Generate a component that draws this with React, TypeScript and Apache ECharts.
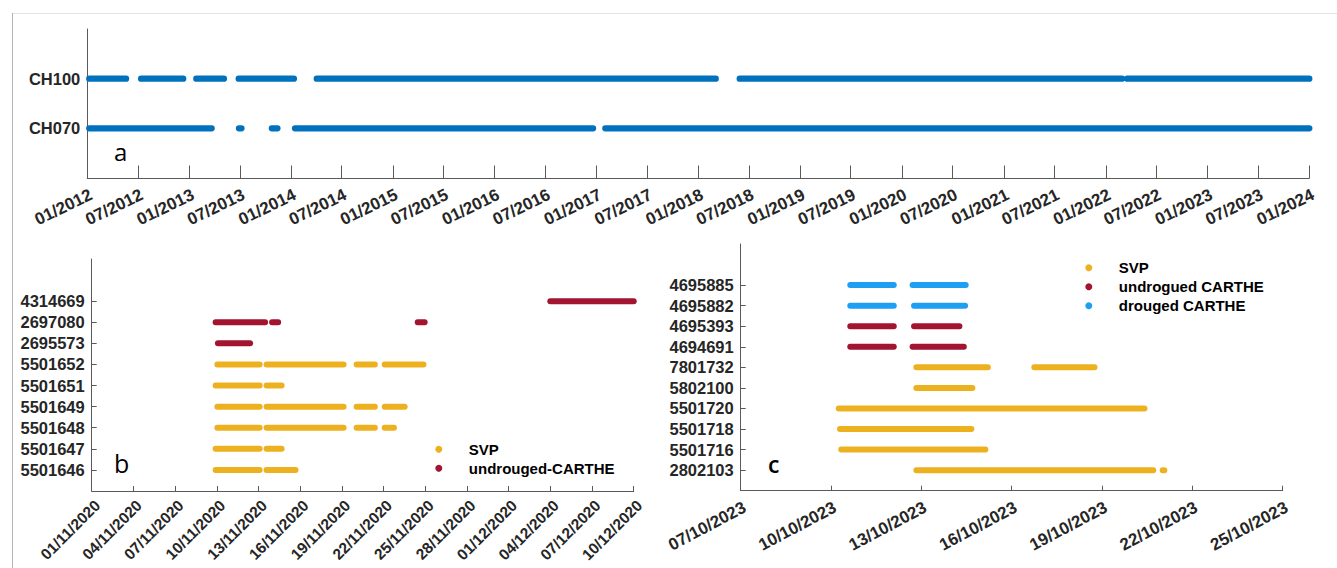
import React, { useEffect, useRef } from "react";
import * as echarts from "echarts";

// ---- Panel a: mooring record coverage ----
const A_ROWS = ["CH070", "CH100"]; // bottom to top
const CH070_SEGMENTS: [string, string][] = [
  ["2012-01-08", "2013-03-22"],
  ["2013-06-28", "2013-07-07"],
  ["2013-10-24", "2013-11-13"],
  ["2014-01-15", "2016-12-19"],
  ["2017-02-01", "2024-01-01"],
];
const CH100_SEGMENTS: [string, string][] = [
  ["2012-01-08", "2012-05-19"],
  ["2012-07-12", "2012-12-10"],
  ["2013-01-26", "2013-05-05"],
  ["2013-06-27", "2014-01-11"],
  ["2014-04-03", "2018-03-04"],
  ["2018-05-29", "2022-02-28"],
  ["2022-03-19", "2024-01-01"],
];
const A_TICKS = [
  "2012-01-01", "2012-07-01", "2013-01-01", "2013-07-01", "2014-01-01",
  "2014-07-01", "2015-01-01", "2015-07-01", "2016-01-01", "2016-07-01",
  "2017-01-01", "2017-07-01", "2018-01-01", "2018-07-01", "2019-01-01",
  "2019-07-01", "2020-01-01", "2020-07-01", "2021-01-01", "2021-07-01",
  "2022-01-01", "2022-07-01", "2023-01-01", "2023-07-01", "2024-01-01",
];

// ---- Panel b: drifters, Nov-Dec 2020 ----
const B_IDS = [
  "5501646", "5501647", "5501648", "5501649", "5501651",
  "5501652", "2695573", "2697080", "4314669",
];
const B_TYPES = [
  "SVP", "SVP", "SVP", "SVP", "SVP",
  "SVP", "undrouged-CARTHE", "undrouged-CARTHE", "undrouged-CARTHE",
];
const B_SEGMENTS: [string, string][][] = [
  [["2020-11-09 22:00", "2020-11-13 02:00"], ["2020-11-13 14:00", "2020-11-15 16:00"]],
  [["2020-11-09 22:00", "2020-11-13 02:00"], ["2020-11-13 14:00", "2020-11-14 16:00"]],
  [["2020-11-10 01:00", "2020-11-13 02:00"], ["2020-11-13 14:00", "2020-11-19 03:00"], ["2020-11-20 01:30", "2020-11-21 09:00"], ["2020-11-22 02:00", "2020-11-22 18:00"]],
  [["2020-11-10 01:00", "2020-11-13 02:00"], ["2020-11-13 14:00", "2020-11-19 03:00"], ["2020-11-20 01:30", "2020-11-21 09:00"], ["2020-11-22 02:00", "2020-11-23 12:30"]],
  [["2020-11-09 22:00", "2020-11-13 02:00"], ["2020-11-13 14:00", "2020-11-14 16:00"]],
  [["2020-11-10 01:00", "2020-11-13 02:00"], ["2020-11-13 14:00", "2020-11-19 03:00"], ["2020-11-20 01:30", "2020-11-21 09:00"], ["2020-11-22 02:00", "2020-11-24 21:00"]],
  [["2020-11-10 02:00", "2020-11-12 09:30"]],
  [["2020-11-09 22:00", "2020-11-13 11:30"], ["2020-11-13 23:30", "2020-11-14 10:00"], ["2020-11-24 11:00", "2020-11-24 23:00"]],
  [["2020-12-04 00:00", "2020-12-10 00:00"]],
];
const B_LEGEND = ["SVP", "undrouged-CARTHE"];
const B_TICKS = [
  "2020-11-01", "2020-11-04", "2020-11-07", "2020-11-10", "2020-11-13",
  "2020-11-16", "2020-11-19", "2020-11-22", "2020-11-25", "2020-11-28",
  "2020-12-01", "2020-12-04", "2020-12-07", "2020-12-10",
];

// ---- Panel c: drifters, Oct 2023 ----
const C_IDS = [
  "2802103", "5501716", "5501718", "5501720", "5802100",
  "7801732", "4694691", "4695393", "4695882", "4695885",
];
const C_TYPES = [
  "SVP", "SVP", "SVP", "SVP", "SVP",
  "SVP", "undrogued CARTHE", "undrogued CARTHE", "drouged CARTHE", "drouged CARTHE",
];
const C_SEGMENTS: [string, string][][] = [
  [["2023-10-12 20:00", "2023-10-20 16:50"], ["2023-10-21 00:20", "2023-10-21 01:40"]],
  [["2023-10-10 08:10", "2023-10-15 03:00"]],
  [["2023-10-10 07:10", "2023-10-14 15:50"]],
  [["2023-10-10 06:10", "2023-10-20 09:50"]],
  [["2023-10-12 20:00", "2023-10-14 16:40"]],
  [["2023-10-12 20:00", "2023-10-15 05:00"], ["2023-10-16 18:00", "2023-10-18 18:00"]],
  [["2023-10-10 15:20", "2023-10-12 02:00"], ["2023-10-12 17:00", "2023-10-14 09:50"]],
  [["2023-10-10 15:20", "2023-10-12 02:00"], ["2023-10-12 18:10", "2023-10-14 06:20"]],
  [["2023-10-10 15:20", "2023-10-12 02:00"], ["2023-10-12 18:10", "2023-10-14 10:50"]],
  [["2023-10-10 15:20", "2023-10-12 02:00"], ["2023-10-12 17:00", "2023-10-14 11:20"]],
];
const C_LEGEND = ["SVP", "undrogued CARTHE", "drouged CARTHE"];
const C_TICKS = [
  "2023-10-07", "2023-10-10", "2023-10-13", "2023-10-16",
  "2023-10-19", "2023-10-22", "2023-10-25",
];

const TYPE_COLORS: Record<string, string> = {
  SVP: "#EDB120",
  "undrouged-CARTHE": "#A2142F",
  "undrogued CARTHE": "#A2142F",
  "drouged CARTHE": "#1E9FF2",
};
const MOORING_COLOR = "#0072BD";

const ts = (s: string): number => {
  const [d, hm = "00:00"] = s.split(" ");
  const [Y, M, D] = d.split("-").map(Number);
  const [h, m] = hm.split(":").map(Number);
  return Date.UTC(Y, M - 1, D, h, m);
};
const pad = (n: number) => String(n).padStart(2, "0");
const fmtMonth = (v: number) => {
  const d = new Date(v);
  return `${pad(d.getUTCMonth() + 1)}/${d.getUTCFullYear()}`;
};
const fmtDay = (v: number) => {
  const d = new Date(v);
  return `${pad(d.getUTCDate())}/${pad(d.getUTCMonth() + 1)}/${d.getUTCFullYear()}`;
};

const FONT = "'Liberation Sans', Arial, Helvetica, sans-serif";
const AXIS_COLOR = "#5a5a5a";
const TEXT_COLOR = "#262626";

function rowSeries(
  name: string,
  color: string,
  segs: [string, string][],
  y: number,
  axisIndex: number,
  width: number
) {
  const data: any[] = [];
  segs.forEach(([s, e], i) => {
    if (i) data.push(["-", "-"]);
    data.push([ts(s), y], [ts(e), y]);
  });
  return {
    type: "line",
    name,
    xAxisIndex: axisIndex,
    yAxisIndex: axisIndex,
    data,
    symbol: "none",
    showSymbol: false,
    connectNulls: false,
    clip: false,
    silent: true,
    color,
    itemStyle: { color },
    lineStyle: { color, width, cap: "round", join: "round" },
    emphasis: { disabled: true },
  };
}

function xAxis(
  gridIndex: number,
  ticks: string[],
  fmt: (v: number) => string,
  rotate: number,
  tickLen: number,
  fontSize: number,
  margin: number
) {
  const values = ticks.map((t) => ts(t));
  return {
    type: "value",
    gridIndex,
    min: values[0],
    max: values[values.length - 1],
    axisLine: { show: true, onZero: false, lineStyle: { color: AXIS_COLOR, width: 1 } },
    axisTick: {
      show: true,
      inside: true,
      length: tickLen,
      customValues: values,
      lineStyle: { color: AXIS_COLOR, width: 1 },
    },
    splitLine: { show: false },
    axisLabel: {
      customValues: values,
      formatter: (v: number) => fmt(v),
      rotate,
      align: "right",
      verticalAlign: "top",
      margin,
      fontSize,
      fontWeight: "bold",
      fontFamily: FONT,
      color: TEXT_COLOR,
    },
  };
}

function yAxis(gridIndex: number, ids: string[], max: number, tickLen: number) {
  const values = ids.map((_, i) => i + 1);
  return {
    type: "value",
    gridIndex,
    min: 0,
    max,
    interval: 1,
    axisLine: { show: true, onZero: false, lineStyle: { color: AXIS_COLOR, width: 1 } },
    axisTick: {
      show: tickLen > 0,
      inside: true,
      length: tickLen,
      customValues: values,
      lineStyle: { color: AXIS_COLOR, width: 1 },
    },
    splitLine: { show: false },
    axisLabel: {
      customValues: values,
      formatter: (v: number) => ids[v - 1] ?? "",
      margin: 7,
      fontSize: 16.5,
      fontWeight: "bold",
      fontFamily: FONT,
      color: TEXT_COLOR,
    },
  };
}

function legend(left: number, top: number, names: string[]) {
  return {
    orient: "vertical",
    left,
    top,
    padding: 0,
    itemGap: 4,
    itemWidth: 50,
    itemHeight: 7,
    icon: "circle",
    selectedMode: false,
    data: names,
    textStyle: { fontSize: 15, fontWeight: "bold", fontFamily: FONT, color: "#000" },
  };
}

function panelLetter(text: string, x: number, y: number, size: number, weight: string) {
  return {
    type: "text",
    x,
    y,
    silent: true,
    style: {
      text,
      font: `${weight} ${size}px 'Open Sans', sans-serif`,
      fill: "#000",
      verticalAlign: "middle",
      align: "left",
    },
  };
}

export default function App() {
  const ref = useRef<HTMLDivElement>(null);

  useEffect(() => {
    if (!ref.current) return;
    const chart = echarts.init(ref.current, undefined, { renderer: "svg" });

    const series: any[] = [
      rowSeries("CH070", MOORING_COLOR, CH070_SEGMENTS, 1, 0, 6.3),
      rowSeries("CH100", MOORING_COLOR, CH100_SEGMENTS, 2, 0, 6.3),
      ...B_IDS.map((_, i) =>
        rowSeries(B_TYPES[i], TYPE_COLORS[B_TYPES[i]], B_SEGMENTS[i], i + 1, 1, 6)
      ),
      ...C_IDS.map((_, i) =>
        rowSeries(C_TYPES[i], TYPE_COLORS[C_TYPES[i]], C_SEGMENTS[i], i + 1, 2, 6)
      ),
    ];

    chart.setOption({
      animation: false,
      backgroundColor: "#ffffff",
      grid: [
        { left: 87.3, top: 29, width: 1222, height: 149, outerBoundsMode: "none", containLabel: false },
        { left: 91.7, top: 259, width: 542, height: 232, outerBoundsMode: "none", containLabel: false },
        { left: 740.7, top: 244, width: 542, height: 246.7, outerBoundsMode: "none", containLabel: false },
      ],
      xAxis: [
        xAxis(0, A_TICKS, fmtMonth, 26, 12.5, 17, 8),
        xAxis(1, B_TICKS, fmtDay, 45, 5, 15.5, 6),
        xAxis(2, C_TICKS, fmtDay, 28, 5, 17, 8),
      ],
      yAxis: [
        yAxis(0, A_ROWS, 3, 0),
        yAxis(1, B_IDS, 11, 5),
        yAxis(2, C_IDS, 12, 5),
      ],
      legend: [legend(435.3, 441.8, B_LEGEND), legend(1085.3, 260.2, C_LEGEND)],
      graphic: [
        {
          type: "line",
          silent: true,
          shape: { x1: 13, y1: 13.5, x2: 1337, y2: 13.5 },
          style: { stroke: "#e4e4e4", lineWidth: 1 },
        },
        {
          type: "line",
          silent: true,
          shape: { x1: 12.5, y1: 13, x2: 12.5, y2: 568 },
          style: { stroke: "#b4b4b4", lineWidth: 1 },
        },
        panelLetter("a", 114, 151.5, 24, "normal"),
        panelLetter("b", 114, 462.5, 25, "normal"),
        panelLetter("c", 768, 463.5, 23, "600"),
      ],
      series,
    });

    return () => chart.dispose();
  }, []);

  return (
    <div
      ref={ref}
      style={{ position: "fixed", left: 0, top: 0, width: 1337, height: 568, background: "#fff" }}
    />
  );
}
